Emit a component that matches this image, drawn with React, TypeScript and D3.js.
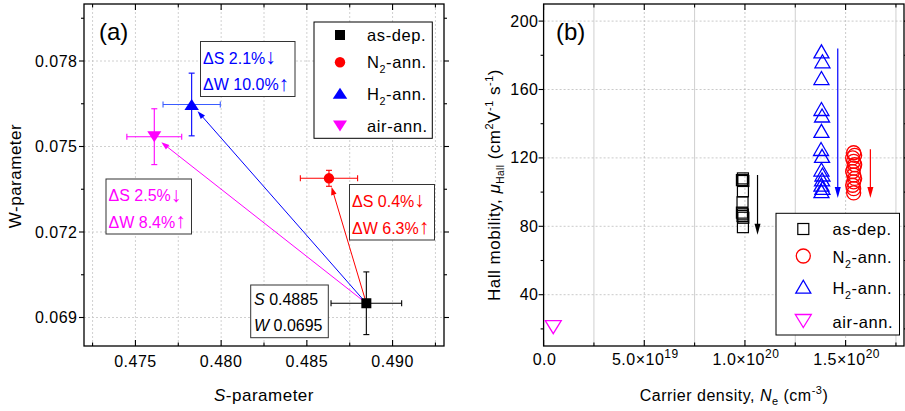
import React from "react";
import * as d3 from "d3";

const FONT = "'Liberation Sans', Arial, Helvetica, sans-serif";

// ---------- Panel (a) data ----------
const aSeries = ["as-dep.", "N2-ann.", "H2-ann.", "air-ann."];
const aColors = ["#000000", "#ff0000", "#0000ff", "#ff00ff"];
const sParam = [0.48847, 0.48629, 0.47828, 0.4761];
const wParam = [0.0695, 0.073884, 0.076474, 0.075344];
const sErr = [0.00206, 0.00167, 0.00167, 0.0016];
const wErr = [0.0011, 0.00028, 0.0011, 0.00098];
const aXTicks = [0.475, 0.48, 0.485, 0.49];
const aYTicks = [0.069, 0.072, 0.075, 0.078];
const aDeltaS = ["", "0.4%", "2.1%", "2.5%"];
const aDeltaW = ["", "6.3%", "10.0%", "8.4%"];

// ---------- Panel (b) data ----------
const bSeries = ["as-dep.", "N2-ann.", "H2-ann.", "air-ann."];
const asDepN = [0.99e20, 0.985e20, 0.992e20, 0.99e20, 0.988e20, 0.985e20, 0.99e20, 0.988e20, 0.992e20, 0.99e20];
const asDepMu = [108, 107, 106.5, 100.5, 94, 88, 87, 86, 85, 79.5];
const n2N = [1.54e20, 1.545e20, 1.535e20, 1.54e20, 1.545e20, 1.54e20, 1.535e20, 1.54e20, 1.545e20, 1.54e20, 1.535e20, 1.54e20, 1.54e20];
const n2Mu = [123, 121.5, 120, 118, 116, 114, 112, 110, 108, 106, 104, 102, 99.5];
const h2N = [1.38e20, 1.385e20, 1.38e20, 1.38e20, 1.383e20, 1.38e20, 1.378e20, 1.383e20, 1.38e20, 1.385e20, 1.383e20, 1.38e20, 1.385e20, 1.38e20];
const h2Mu = [182.3, 176.5, 166.7, 148.6, 144.8, 135.8, 125.2, 121.2, 113.2, 110.3, 107.4, 104.4, 102.5, 100.6];
const airN = [4.8e18];
const airMu = [21];
const bXTicks = [0, 5e19, 1e20, 1.5e20];
const bXTickMant = ["0.0", "5.0×10", "1.0×10", "1.5×10"];
const bXTickExp = ["", "19", "20", "20"];
const bYTicks = [40, 80, 120, 160, 200];
// trend arrows: [N, mu start, mu end]
const bArrowN = [1.0625e20, 1.461e20, 1.623e20];
const bArrowFrom = [110, 184, 125];
const bArrowTo = [75, 96.5, 96.5];
const bArrowColors = ["#000000", "#0000ff", "#ff0000"];

// ---------- geometry ----------
const A = { l: 84, r: 444, t: 4, b: 346 };
const B = { l: 543.6, r: 904, t: 4, b: 346 };

const ax = d3.scaleLinear().domain([0.472, 0.493]).range([A.l, A.r]);
const ay = d3.scaleLinear().domain([0.068, 0.08]).range([A.b, A.t]);
const bx = d3.scaleLinear().domain([0, 1.79e20]).range([B.l, B.r]);
const by = d3.scaleLinear().domain([10, 210]).range([B.b, B.t]);

function triUp(cx: number, cy: number, w: number, h: number) {
  return `M${cx},${cy - h / 2}L${cx + w / 2},${cy + h / 2}L${cx - w / 2},${cy + h / 2}Z`;
}
function triDown(cx: number, cy: number, w: number, h: number) {
  return `M${cx},${cy + h / 2}L${cx + w / 2},${cy - h / 2}L${cx - w / 2},${cy - h / 2}Z`;
}

function Marker({ i, x, y, filled, big }: { i: number; x: number; y: number; filled: boolean; big?: boolean }) {
  const c = aColors[i];
  const fill = filled ? c : "none";
  const sw = filled ? 0 : 1.3;
  if (i === 0) {
    const s = big ? 11 : 10;
    return <rect x={x - s / 2} y={y - s / 2} width={s} height={s} fill={fill} stroke={c} strokeWidth={filled ? 0 : 1.2} />;
  }
  if (i === 1) {
    const r = big ? 7 : 5.2;
    return <circle cx={x} cy={y} r={r} fill={fill} stroke={c} strokeWidth={sw} />;
  }
  if (i === 2) {
    return <path d={triUp(x, y, big ? 15 : 14.5, big ? 13 : 11)} fill={fill} stroke={c} strokeWidth={sw} />;
  }
  return <path d={triDown(x, y, big ? 16 : 14, big ? 13 : 11)} fill={fill} stroke={c} strokeWidth={sw} />;
}

function SeriesName({ name, x, y, size }: { name: string; x: number; y: number; size: number }) {
  const m = name.match(/^([NH])2(-ann\.)$/);
  if (m) {
    return (
      <text x={x} y={y} fontSize={size} fontFamily={FONT} letterSpacing={0.6}>
        {m[1]}
        <tspan dy={5} fontSize={size * 0.65}>2</tspan>
        <tspan dy={-5}>{m[2]}</tspan>
      </text>
    );
  }
  return (
    <text x={x} y={y} fontSize={size} fontFamily={FONT} letterSpacing={0.6}>
      {name}
    </text>
  );
}

function Arrow({ x1, y1, x2, y2, color, shorten, len, half }: { x1: number; y1: number; x2: number; y2: number; color: string; shorten: number; len: number; half: number }) {
  const dx = x2 - x1, dy = y2 - y1;
  const d = Math.hypot(dx, dy);
  const ux = dx / d, uy = dy / d;
  const tx = x2 - ux * shorten, ty = y2 - uy * shorten;
  const bxp = tx - ux * len, byp = ty - uy * len;
  const px = -uy, py = ux;
  return (
    <g>
      <line x1={x1} y1={y1} x2={bxp + ux * 1} y2={byp + uy * 1} stroke={color} strokeWidth={1} />
      <path d={`M${tx},${ty}L${bxp + px * half},${byp + py * half}L${bxp - px * half},${byp - py * half}Z`} fill={color} />
    </g>
  );
}

function PanelA() {
  const minorX = d3.range(0, 9).map((k) => 0.4725 + k * 0.0025);
  const minorY = [0.0705, 0.0735, 0.0765, 0.0795];
  const pts = sParam.map((s, i) => ({ x: ax(s), y: ay(wParam[i]) }));
  const cap = 3;
  const txt = { fontFamily: FONT, fontSize: 16, letterSpacing: 0.5 } as const;
  return (
    <g>
      {/* grid */}
      {minorX.map((v, k) => (
        <line key={"gx" + k} x1={ax(v)} x2={ax(v)} y1={A.t} y2={A.b} stroke="#c4c4c4" strokeWidth={0.8} strokeDasharray="2,2" />
      ))}
      {aYTicks.map((v, k) => (
        <line key={"gy" + k} x1={A.l} x2={A.r} y1={ay(v)} y2={ay(v)} stroke="#c4c4c4" strokeWidth={0.8} strokeDasharray="2,2" />
      ))}
      {/* frame */}
      <rect x={A.l} y={A.t} width={A.r - A.l} height={A.b - A.t} fill="none" stroke="#000" strokeWidth={1.3} />
      {/* ticks */}
      {minorX.map((v, k) => {
        const major = aXTicks.some((t) => Math.abs(t - v) < 1e-6);
        const L = major ? 6 : 3.5;
        return (
          <g key={"tx" + k}>
            <line x1={ax(v)} x2={ax(v)} y1={A.b} y2={A.b - L} stroke="#000" strokeWidth={1.1} />
            <line x1={ax(v)} x2={ax(v)} y1={A.t} y2={A.t + L} stroke="#000" strokeWidth={1.1} />
          </g>
        );
      })}
      {[...aYTicks, ...minorY].map((v, k) => {
        const major = k < aYTicks.length;
        const L = major ? 5 : 3;
        return (
          <g key={"ty" + k}>
            <line x1={A.l} x2={A.l - L} y1={ay(v)} y2={ay(v)} stroke="#000" strokeWidth={1.1} />
            <line x1={A.r} x2={A.r + L} y1={ay(v)} y2={ay(v)} stroke="#000" strokeWidth={1.1} />
          </g>
        );
      })}
      {/* tick labels */}
      {aXTicks.map((v, k) => (
        <text key={"lx" + k} x={ax(v)} y={366.5} textAnchor="middle" {...txt}>
          {d3.format(".3f")(v)}
        </text>
      ))}
      {aYTicks.map((v, k) => (
        <text key={"ly" + k} x={77.5} y={ay(v) + 5.5} textAnchor="end" {...txt}>
          {d3.format(".3f")(v)}
        </text>
      ))}
      {/* axis titles */}
      <text x={264} y={401} textAnchor="middle" {...txt} fontSize={17}>
        <tspan fontStyle="italic">S</tspan>-parameter
      </text>
      <text transform="translate(21,176) rotate(-90)" textAnchor="middle" {...txt} fontSize={17}>
        W-parameter
      </text>
      <text x={99} y={40} fontFamily={FONT} fontSize={24}>(a)</text>

      {/* arrows from as-dep */}
      {[1, 2, 3].map((i) => (
        <Arrow key={"ar" + i} x1={pts[0].x} y1={pts[0].y} x2={pts[i].x} y2={pts[i].y} color={aColors[i]} shorten={9} len={8} half={2.8} />
      ))}

      {/* error bars */}
      {pts.map((p, i) => {
        const c = i === 2 ? "#3a5cff" : aColors[i];
        const x0 = ax(sParam[i] - sErr[i]), x1 = ax(sParam[i] + sErr[i]);
        const y0 = ay(wParam[i] - wErr[i]), y1 = ay(wParam[i] + wErr[i]);
        return (
          <g key={"eb" + i} stroke={c} strokeWidth={1.1}>
            <line x1={x0} x2={x1} y1={p.y} y2={p.y} />
            <line x1={x0} x2={x0} y1={p.y - cap} y2={p.y + cap} />
            <line x1={x1} x2={x1} y1={p.y - cap} y2={p.y + cap} />
            <line x1={p.x} x2={p.x} y1={y0} y2={y1} stroke={aColors[i]} />
            <line x1={p.x - cap} x2={p.x + cap} y1={y0} y2={y0} stroke={aColors[i]} />
            <line x1={p.x - cap} x2={p.x + cap} y1={y1} y2={y1} stroke={aColors[i]} />
          </g>
        );
      })}
      {pts.map((p, i) => (
        <Marker key={"m" + i} i={i} x={p.x} y={p.y} filled={true} />
      ))}

      {/* annotation boxes */}
      {[
        { i: 2, x: 200.5, y: 41.5, w: 94.5, h: 55 },
        { i: 3, x: 106, y: 179, w: 85.5, h: 55 },
        { i: 1, x: 349.5, y: 184.5, w: 85, h: 55.5 },
      ].map((b) => (
        <g key={"bx" + b.i}>
          <rect x={b.x} y={b.y} width={b.w} height={b.h} fill="#fff" stroke="#333" strokeWidth={1} />
          <text x={b.x + 2.5} y={b.y + 22} fill={aColors[b.i]} fontFamily={FONT} fontSize={16} letterSpacing={0}>
            ΔS {aDeltaS[b.i]}<tspan fontSize={21} dy={0.5}>↓</tspan>
          </text>
          <text x={b.x + 2.5} y={b.y + b.h - 6.5} fill={aColors[b.i]} fontFamily={FONT} fontSize={16} letterSpacing={0}>
            ΔW {aDeltaW[b.i]}<tspan fontSize={21} dy={0.5}>↑</tspan>
          </text>
        </g>
      ))}
      <g>
        <rect x={250.7} y={285} width={77.6} height={52.7} fill="#fff" stroke="#333" strokeWidth={1} />
        <text x={254} y={305} fontFamily={FONT} fontSize={16}>
          <tspan fontStyle="italic">S</tspan> {d3.format(".4f")(sParam[0])}
        </text>
        <text x={254} y={331} fontFamily={FONT} fontSize={16}>
          <tspan fontStyle="italic">W</tspan> {d3.format(".4f")(wParam[0])}
        </text>
      </g>

      {/* legend */}
      <rect x={314} y={22} width={118.3} height={116.3} fill="#fff" stroke="#000" strokeWidth={1} />
      {aSeries.map((name, i) => {
        const ys = [35, 62.3, 93.3, 126];
        const bl = [41, 68, 99.5, 131.5];
        return (
          <g key={"lg" + i}>
            <Marker i={i} x={340} y={ys[i]} filled={true} />
            <SeriesName name={name} x={367} y={bl[i]} size={16.5} />
          </g>
        );
      })}
    </g>
  );
}

function PanelB() {
  const minorX = [2.5e19, 7.5e19, 1.25e20, 1.75e20];
  const minorY = [20, 60, 100, 140, 180];
  const txt = { fontFamily: FONT, fontSize: 16, letterSpacing: 0.5 } as const;
  const sets = [
    { n: asDepN, mu: asDepMu },
    { n: n2N, mu: n2Mu },
    { n: h2N, mu: h2Mu },
    { n: airN, mu: airMu },
  ];
  return (
    <g>
      <defs>
        <clipPath id="clipB">
          <rect x={B.l} y={B.t} width={B.r - B.l} height={B.b - B.t} />
        </clipPath>
      </defs>
      {/* grid */}
      {minorX.map((v, k) => (
        <line key={"gmx" + k} x1={bx(v)} x2={bx(v)} y1={B.t} y2={B.b} stroke="#cfcfcf" strokeWidth={1} />
      ))}
      {bXTicks.slice(1).map((v, k) => (
        <line key={"gx" + k} x1={bx(v)} x2={bx(v)} y1={B.t} y2={B.b} stroke="#bdbdbd" strokeWidth={0.8} strokeDasharray="2,2" />
      ))}
      {bYTicks.map((v, k) => (
        <line key={"gy" + k} x1={B.l} x2={B.r} y1={by(v)} y2={by(v)} stroke="#bdbdbd" strokeWidth={0.8} strokeDasharray="2,2" />
      ))}
      <rect x={B.l} y={B.t} width={B.r - B.l} height={B.b - B.t} fill="none" stroke="#000" strokeWidth={1.3} />
      {[...bXTicks, ...minorX].map((v, k) => {
        const L = k < bXTicks.length ? 6 : 3.5;
        return (
          <g key={"tx" + k}>
            <line x1={bx(v)} x2={bx(v)} y1={B.b} y2={B.b - L} stroke="#000" strokeWidth={1.1} />
            <line x1={bx(v)} x2={bx(v)} y1={B.t} y2={B.t + L} stroke="#000" strokeWidth={1.1} />
          </g>
        );
      })}
      {[...bYTicks, ...minorY].map((v, k) => {
        const L = k < bYTicks.length ? 5 : 3;
        return (
          <g key={"ty" + k}>
            <line x1={B.l} x2={B.l - L} y1={by(v)} y2={by(v)} stroke="#000" strokeWidth={1.1} />
            <line x1={B.r} x2={B.r + L} y1={by(v)} y2={by(v)} stroke="#000" strokeWidth={1.1} />
          </g>
        );
      })}
      {bXTicks.map((v, k) => (
        <text key={"lx" + k} x={bx(v) + 1} y={365} textAnchor="middle" {...txt}>
          {bXTickMant[k]}
          {bXTickExp[k] ? <tspan dy={-7} fontSize={12}>{bXTickExp[k]}</tspan> : null}
        </text>
      ))}
      {bYTicks.map((v, k) => (
        <text key={"ly" + k} x={538.5} y={by(v) + 5.5} textAnchor="end" {...txt}>
          {d3.format("d")(v)}
        </text>
      ))}
      <text x={734} y={401} textAnchor="middle" {...txt} fontSize={16}>
        Carrier density, <tspan fontStyle="italic">N</tspan>
        <tspan dy={4} fontSize={11}>e</tspan>
        <tspan dy={-4}> (cm</tspan>
        <tspan dy={-7} fontSize={11}>-3</tspan>
        <tspan dy={7}>)</tspan>
      </text>
      <text transform="translate(500,185) rotate(-90)" textAnchor="middle" {...txt} fontSize={17}>
        Hall mobility, <tspan fontStyle="italic">μ</tspan>
        <tspan dy={4} fontSize={10}>Hall</tspan>
        <tspan dy={-4}> (cm</tspan>
        <tspan dy={-7} fontSize={11}>2</tspan>
        <tspan dy={7}>V</tspan>
        <tspan dy={-7} fontSize={11}>-1</tspan>
        <tspan dy={7}> s</tspan>
        <tspan dy={-7} fontSize={11}>-1</tspan>
        <tspan dy={7}>)</tspan>
      </text>
      <text x={556} y={40} fontFamily={FONT} fontSize={24}>(b)</text>

      <g clipPath="url(#clipB)">
        {sets.map((s, i) =>
          s.n.map((n, j) => <Marker key={"p" + i + "-" + j} i={i} x={bx(n)} y={by(s.mu[j])} filled={false} big={true} />)
        )}
        {bArrowN.map((n, k) => {
          const x = bx(n), y1 = by(bArrowFrom[k]), y2 = by(bArrowTo[k]);
          return (
            <g key={"ba" + k}>
              <line x1={x} x2={x} y1={y1} y2={y2 - 10} stroke={bArrowColors[k]} strokeWidth={1.2} />
              <path d={`M${x},${y2}L${x + 3},${y2 - 11}L${x - 3},${y2 - 11}Z`} fill={bArrowColors[k]} />
            </g>
          );
        })}
      </g>

      {/* legend */}
      <rect x={776} y={213.3} width={123.5} height={121.7} fill="#fff" stroke="#000" strokeWidth={1} />
      {bSeries.map((name, i) => {
        const ys = [229, 256, 286.7, 321];
        const bl = [235, 263, 293.5, 328];
        return (
          <g key={"lg" + i}>
            <Marker i={i} x={803.3} y={ys[i]} filled={false} big={true} />
            <SeriesName name={name} x={832.5} y={bl[i]} size={16.5} />
          </g>
        );
      })}
    </g>
  );
}

export default function App() {
  return (
    <svg
      width={905}
      height={411}
      viewBox="0 0 905 411"
      style={{ position: "absolute", left: 0, top: 0, background: "#fff" }}
    >
      <rect x={0} y={0} width={905} height={411} fill="#fff" />
      <PanelA />
      <PanelB />
    </svg>
  );
}
